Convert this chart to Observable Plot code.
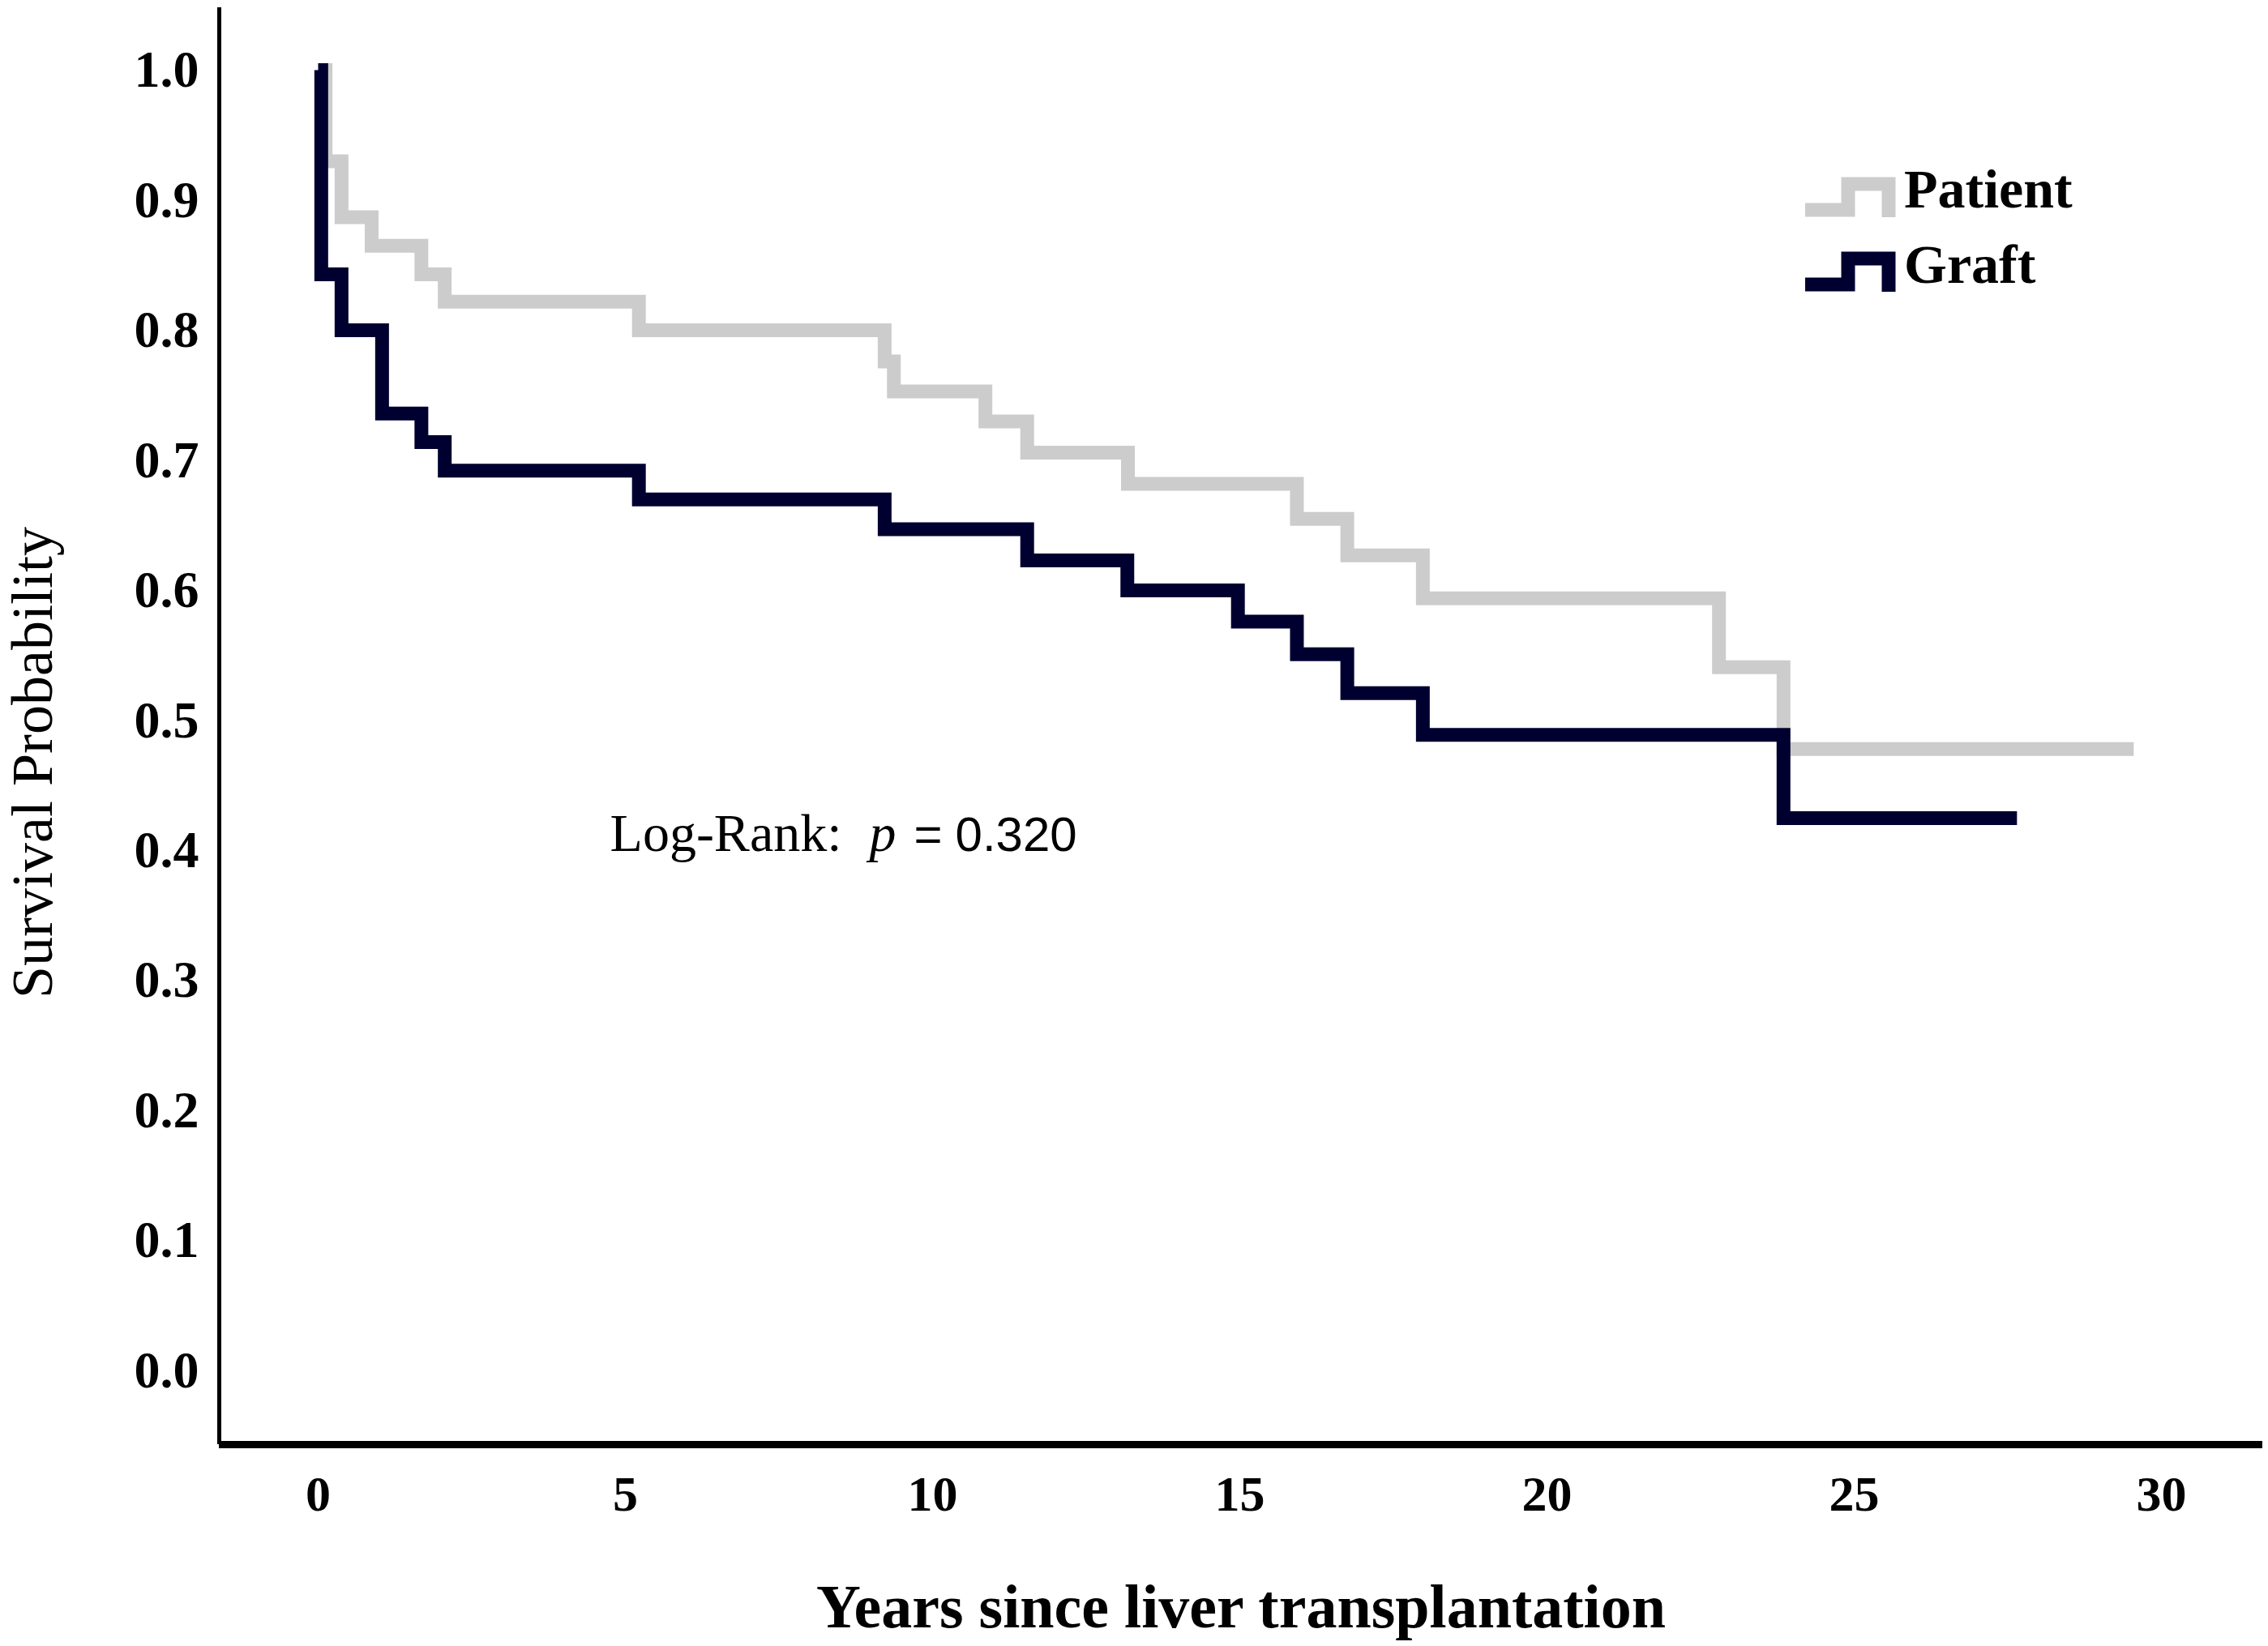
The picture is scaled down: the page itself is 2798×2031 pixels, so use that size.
<!DOCTYPE html>
<html><head><meta charset="utf-8">
<script src="https://cdn.jsdelivr.net/npm/d3@7"></script>
<script src="https://cdn.jsdelivr.net/npm/@observablehq/plot@0.6"></script>
<style>
body{margin:0;background:#fff;}
#wrap{position:relative;width:2798px;height:2031px;overflow:hidden;}
#legend{position:absolute;left:0;top:0;pointer-events:none;}
</style></head><body>
<div id="wrap"></div>
<script>
// ---- data ----
const patientTimes = [0, 0.12, 0.38, 0.87, 1.68, 2.06, 5.22, 9.22, 9.37, 10.86, 11.54, 13.18, 15.93, 16.75, 17.98, 22.8, 23.85, 29.55];
const patientSurv  = [1.0, 0.930, 0.887, 0.865, 0.843, 0.822, 0.800, 0.776, 0.753, 0.730, 0.706, 0.682, 0.655, 0.627, 0.594, 0.541, 0.478, 0.478];
const graftTimes   = [0, 0.05, 0.38, 1.04, 1.68, 2.06, 5.22, 9.22, 11.54, 13.17, 14.97, 15.93, 16.75, 17.98, 23.85, 27.65];
const graftSurv    = [1.0, 0.843, 0.800, 0.736, 0.714, 0.692, 0.670, 0.647, 0.623, 0.600, 0.576, 0.551, 0.521, 0.489, 0.425, 0.425];
const seriesNames  = ["Patient", "Graft"];
const seriesColors = ["#cccccc", "#000030"];
const xTicks = [0, 5, 10, 15, 20, 25, 30];
const yTicks = [0, 0.1, 0.2, 0.3, 0.4, 0.5, 0.6, 0.7, 0.8, 0.9, 1.0];
const xTitle = "Years since liver transplantation";
const yTitle = "Survival Probability";
const logRankLabel = ["Log-Rank:", "p", "=", "0.320"];
const logRankAt = [{x: 4.75, y: 0.40}];

const xDomain = [-1.61, 31.65];
const yDomain = [-0.0567, 1.048];

const patient = patientTimes.map((t, i) => ({t, s: patientSurv[i]}));
const graft = graftTimes.map((t, i) => ({t, s: graftSurv[i]}));

const serif = "'Liberation Serif', 'Times New Roman', serif";

const plot = Plot.plot({
  width: 2798, height: 2031,
  marginLeft: 270, marginRight: 7, marginTop: 9, marginBottom: 249,
  x: {domain: xDomain},
  y: {domain: yDomain},
  style: {fontFamily: serif, background: "white", color: "black", fontSize: "62px"},
  marks: [
    Plot.axisY({ticks: yTicks, tickFormat: d3.format(".1f"), tickSize: 0, tickPadding: 25,
      fontSize: 64, fontWeight: "bold", label: null}),
    Plot.axisX({ticks: xTicks, tickSize: 0, tickPadding: 37,
      fontSize: 62, fontWeight: "bold", label: null}),
    Plot.line(patient, {x: "t", y: "s", curve: "step-after", stroke: seriesColors[0], strokeWidth: 17,
      strokeLinejoin: "miter", strokeLinecap: "butt", strokeMiterlimit: 4}),
    Plot.line(graft, {x: "t", y: "s", curve: "step-after", stroke: seriesColors[1], strokeWidth: 17,
      strokeLinejoin: "miter", strokeLinecap: "butt", strokeMiterlimit: 4}),
    Plot.ruleX([xDomain[0]], {stroke: "black", strokeWidth: 5}),
    Plot.ruleY([yDomain[0]], {stroke: "black", strokeWidth: 9}),
    Plot.text([xTitle], {text: d => d, frameAnchor: "bottom", dy: 201, lineAnchor: "middle",
      fontSize: 76, fontWeight: "bold"}),
    Plot.text([yTitle], {text: d => d, frameAnchor: "left", rotate: -90, dx: -230, dy: 45,
      lineAnchor: "middle", textAnchor: "middle", fontSize: 72}),
    Plot.text(logRankAt, {x: "x", y: "y", text: () => logRankLabel.join(" "), textAnchor: "start",
      lineAnchor: "bottom", fontSize: 66, className: "logrank"})
  ]
});

document.getElementById("wrap").appendChild(plot);

// mixed-style annotation: italic p, sans digits
const lr = plot.querySelector(".logrank text");
if (lr) {
  lr.textContent = "";
  const ns = "http://www.w3.org/2000/svg";
  const parts = [
    {t: logRankLabel[0], dx: 0, style: ""},
    {t: logRankLabel[1], dx: 34, style: "font-style:italic"},
    {t: logRankLabel[2], dx: 22, style: "font-family:'Liberation Sans',sans-serif;font-size:60px"},
    {t: logRankLabel[3], dx: 16, style: "font-family:'Liberation Sans',sans-serif;font-size:60px"}
  ];
  for (const p of parts) {
    const ts = document.createElementNS(ns, "tspan");
    ts.textContent = p.t;
    if (p.dx) ts.setAttribute("dx", p.dx);
    if (p.style) ts.setAttribute("style", p.style);
    lr.appendChild(ts);
  }
}

// legend (top right, inside the plot)
const legendRows = [
  {name: seriesNames[0], color: seriesColors[0], top: 227, low: 259, end: 268, base: 256},
  {name: seriesNames[1], color: seriesColors[1], top: 319, low: 351, end: 360, base: 349}
];
const lg = d3.select("#wrap").append("svg").attr("id", "legend").attr("width", 2798).attr("height", 2031);
for (const r of legendRows) {
  lg.append("path")
    .attr("d", `M2227,${r.low}H2280V${r.top}H2330V${r.end}`)
    .attr("fill", "none").attr("stroke", r.color).attr("stroke-width", 17)
    .attr("stroke-linejoin", "miter").attr("stroke-linecap", "butt");
  lg.append("text").attr("x", 2349).attr("y", r.base)
    .attr("font-family", serif).attr("font-weight", "bold").attr("font-size", 68)
    .text(r.name);
}
</script>
</body></html>
